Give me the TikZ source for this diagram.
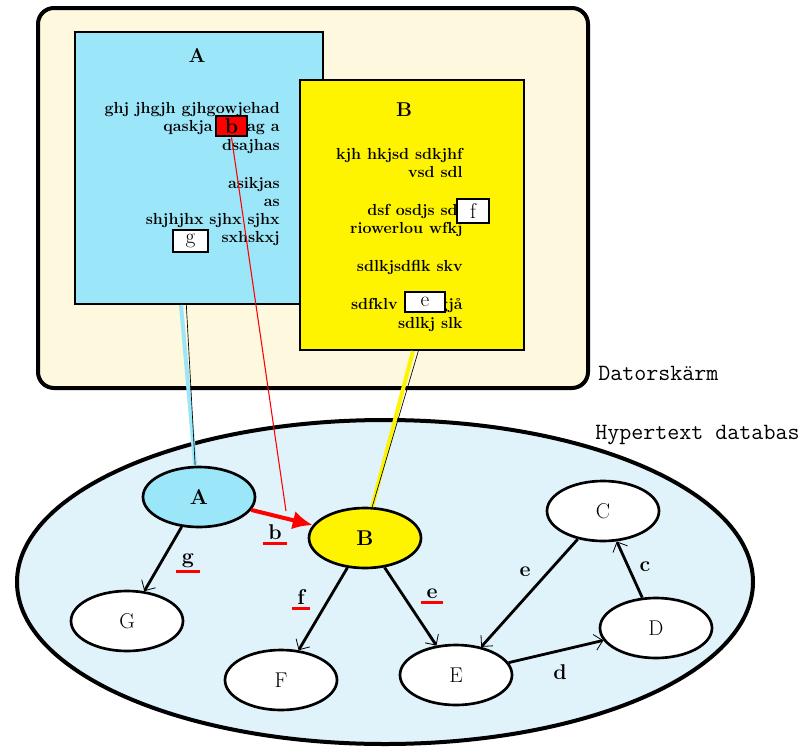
\documentclass[tikz,border=0pt]{standalone}
\usepackage{fontspec}
\usetikzlibrary{arrows.meta,shapes.geometric}

\definecolor{screencream}{RGB}{253,248,222}
\definecolor{winblue}{RGB}{155,230,248}
\definecolor{winyellow}{RGB}{255,244,0}
\definecolor{basefill}{RGB}{224,242,250}

\tikzset{
  knot/.style={draw,ellipse,line width=2pt,fill=white,inner sep=0pt,
    minimum width=84pt,minimum height=45pt,font=\fontsize{16}{18}\selectfont},
  link/.style={line width=2.1pt,-{Straight Barb[length=6pt,width=12pt,line width=0.6pt]}},
  lbl/.style={font=\bfseries\fontsize{16}{18}\selectfont,inner sep=1pt},
  uline/.style={red,line width=2.2pt},
  window/.style={draw,line width=1pt,minimum width=#1,inner sep=0pt},
  title/.style={font=\bfseries\fontsize{15}{17}\selectfont},
  greek/.style={align=right,font=\bfseries\fontsize{12}{13.5}\selectfont,inner sep=0pt,anchor=north east},
  tag/.style={draw,line width=1.5pt,fill=white,inner sep=0pt,font=\fontsize{16}{18}\selectfont},
  caption/.style={anchor=west,font=\ttfamily\fontsize{17.5}{19}\selectfont,inner sep=0pt}
}

\begin{document}
\begin{tikzpicture}[x=0.75pt,y=-0.75pt]
        \useasboundingbox (0,0) rectangle (803,750);

        % draw the screen
        \draw[line width=3pt,fill=screencream,rounded corners=12pt] (38,8) rectangle (588,388);
        \node[caption] (screen) at (598,373) {Datorskärm};

        % draw the database
        \node[draw,ellipse,line width=3pt,fill=basefill,minimum width=552pt,minimum height=243pt] (base) at (385,582) {};
        \node[caption] (dbname) at (595,435) {Hypertext databas};

        % window A
        \node[window=186pt,minimum height=204pt,fill=winblue] (winA) at (199,168) {};
        \node[title] (titleA) at (197,55) {A};
        \node[greek] (textA) at (280,102) {ghj jhgjh gjhgowjehad\\ qaskja\hspace*{26pt}ag a\\[1pt] dsajhas\\[14.5pt]
          asikjas\\ as\\ shjhjhx sjhx sjhx\\ sxhskxj};
        \node[tag,fill=red,minimum width=23pt,minimum height=15.5pt,font=\bfseries\fontsize{16}{18}\selectfont] (tagb) at (231.5,126) {b};
        \node[tag,minimum width=26pt,minimum height=16.5pt] (tagg) at (190.5,241) {g};

        % window B
        \node[window=168pt,minimum height=202.5pt,fill=winyellow] (winB) at (412,215) {};
        \node[title] (titleB) at (404,110) {B};
        \node[greek] (textB) at (463,148) {kjh hkjsd sdkjhf\\ vsd sdl\\[15pt]
          dsf osdjs sdl\hspace*{4.5pt}\\ riowerlou wfkj\\[15pt] sdlkjsdflk skv\\[15pt] sdfklv\hspace*{31pt}gjå\\[1pt] sdlkj slk};
        \node[tag,minimum width=24pt,minimum height=18pt] (tagf) at (473,211) {f};
        \node[tag,minimum width=30pt,minimum height=15.5pt] (tage) at (425,302) {e};

        % nodes of the database
        \node[knot,fill=winblue,font=\bfseries\fontsize{16}{18}\selectfont] (nA) at (199,497) {A};
        \node[knot,fill=winyellow,font=\bfseries\fontsize{16}{18}\selectfont] (nB) at (365,538) {B};
        \node[knot] (nG) at (127,621) {G};
        \node[knot] (nF) at (281,680) {F};
        \node[knot] (nE) at (456,675) {E};
        \node[knot] (nC) at (603,511) {C};
        \node[knot] (nD) at (656,628) {D};

        % lines from the windows down to the nodes
        \coordinate (footA) at (181,305);
        \coordinate (footB) at (413,351);
        \coordinate (hitB) at (286,511);
        \draw[winblue,line width=3pt] (footA) -- (nA.97);
        \draw[black,line width=0.5pt] ([xshift=4]footA) -- (nA.97);
        \draw[winyellow,line width=3pt] (footB) -- (nB.77);
        \draw[black,line width=0.5pt] ([xshift=4]footB) -- (nB.77);
        \draw[red,line width=0.8pt] (tagb.south) -- (hitB);

        % links between the nodes
        \draw[red,line width=3pt,-{Latex[length=15pt,width=14pt]}] (nA) -- (nB);
        \draw[link] (nA) -- (nG);
        \draw[link] (nB) -- (nF);
        \draw[link] (nB) -- (nE);
        \draw[link] (nC) -- (nE);
        \draw[link] (nE) -- (nD);
        \draw[link] (nD) -- (nC);

        % labels of the links
        \foreach \name/\pos/\txt in {lg/{(188,561)}/g, lb/{(275,532)}/b, lf/{(301,597)}/f, le/{(432,594)}/e} {
                \node[lbl] (\name) at \pos {\txt};
                \draw[uline] ([xshift=-3pt,yshift=-1.5pt]\name.south west) -- ([xshift=3pt,yshift=-1.5pt]\name.south east);
        }
        \node[lbl] (lce) at (525,572) {e};
        \node[lbl] (ld) at (560,672) {d};
        \node[lbl] (lc) at (645,567) {c};
\end{tikzpicture}
\end{document}
